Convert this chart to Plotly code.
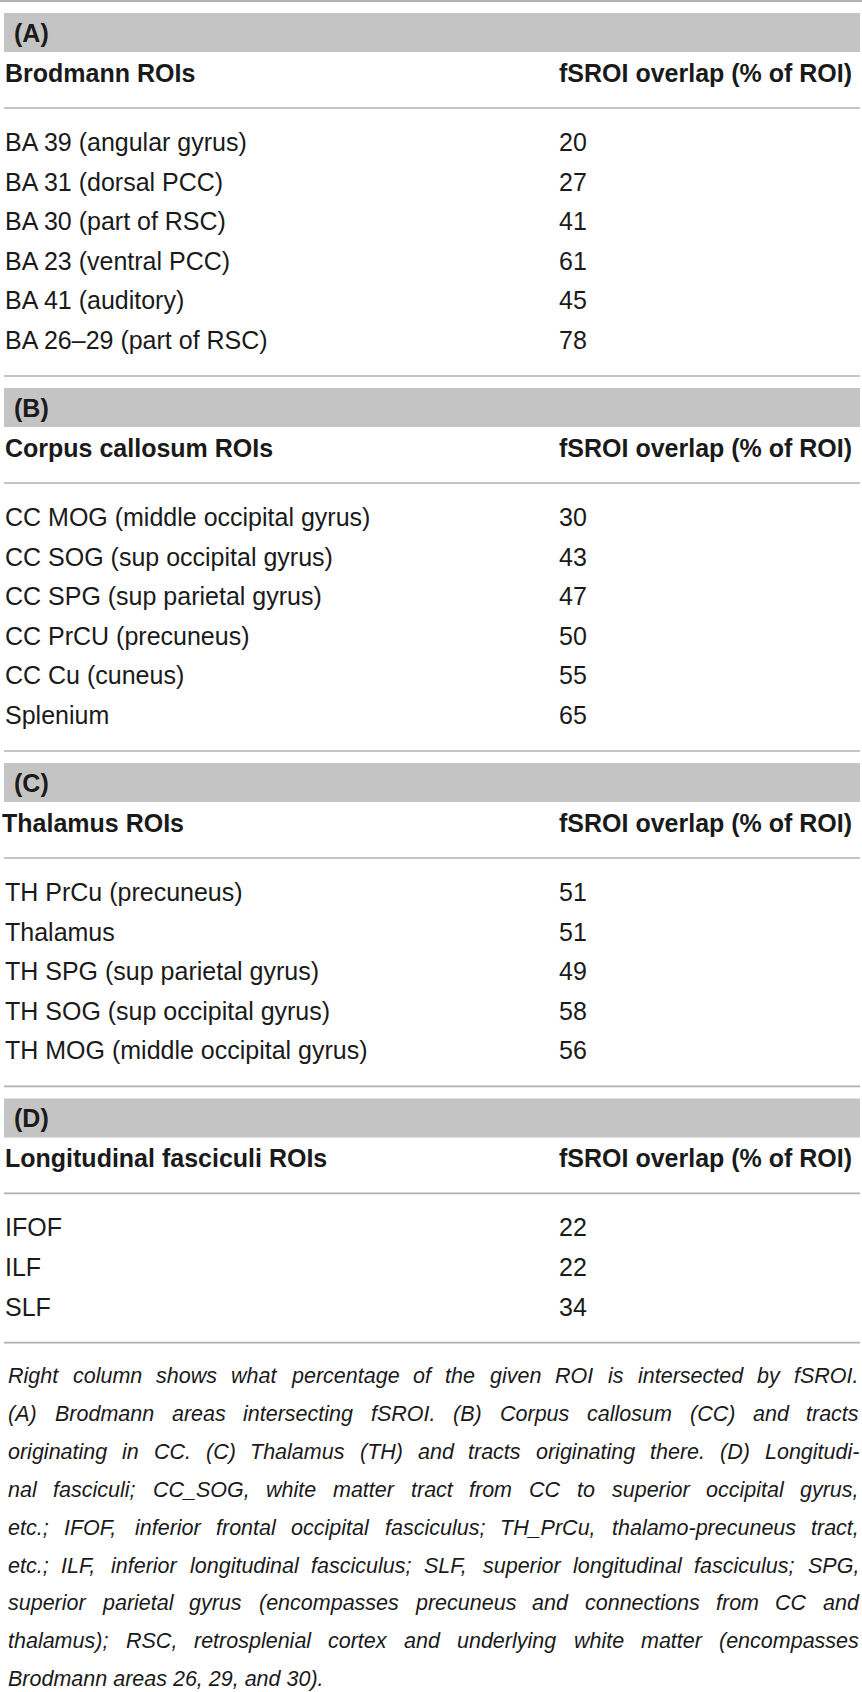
import plotly.graph_objects as go

# ---- table content ----
section_tags = ['(A)', '(B)', '(C)', '(D)']
section_headers = ['Brodmann ROIs', 'Corpus callosum ROIs', 'Thalamus ROIs', 'Longitudinal fasciculi ROIs']
value_header = 'fSROI overlap (% of ROI)'

brodmann_rois = ['BA 39 (angular gyrus)', 'BA 31 (dorsal PCC)', 'BA 30 (part of RSC)',
                 'BA 23 (ventral PCC)', 'BA 41 (auditory)', 'BA 26–29 (part of RSC)']
brodmann_overlap = [20, 27, 41, 61, 45, 78]

cc_rois = ['CC MOG (middle occipital gyrus)', 'CC SOG (sup occipital gyrus)', 'CC SPG (sup parietal gyrus)',
           'CC PrCU (precuneus)', 'CC Cu (cuneus)', 'Splenium']
cc_overlap = [30, 43, 47, 50, 55, 65]

thalamus_rois = ['TH PrCu (precuneus)', 'Thalamus', 'TH SPG (sup parietal gyrus)',
                 'TH SOG (sup occipital gyrus)', 'TH MOG (middle occipital gyrus)']
thalamus_overlap = [51, 51, 49, 58, 56]

lf_rois = ['IFOF', 'ILF', 'SLF']
lf_overlap = [22, 22, 34]

caption_lines = [
    'Right column shows what percentage of the given ROI is intersected by fSROI.',
    '(A) Brodmann areas intersecting fSROI. (B) Corpus callosum (CC) and tracts',
    'originating in CC. (C) Thalamus (TH) and tracts originating there. (D) Longitudi-',
    'nal fasciculi; CC_SOG, white matter tract from CC to superior occipital gyrus,',
    'etc.; IFOF, inferior frontal occipital fasciculus; TH_PrCu, thalamo-precuneus tract,',
    'etc.; ILF, inferior longitudinal fasciculus; SLF, superior longitudinal fasciculus; SPG,',
    'superior parietal gyrus (encompasses precuneus and connections from CC and',
    'thalamus); RSC, retrosplenial cortex and underlying white matter (encompasses',
    'Brodmann areas 26, 29, and 30).',
]

sections = [
    (brodmann_rois, brodmann_overlap),
    (cc_rois, cc_overlap),
    (thalamus_rois, thalamus_overlap),
    (lf_rois, lf_overlap),
]

# ---- page geometry (px) ----
W, H = 862, 1692
X0, X1 = 4, 860
VAL_X = 558
BAND_H = 39
PITCH = 39.6
FONT = 'Liberation Sans, Arial, Helvetica, sans-serif'
TXT = '#1a1a1a'
BAND = '#c4c4c4'
RULE = '#b0b0b0'

# helvetica/arial advance widths (1/1000 em), used to justify the caption
_w = {' ': 278, '.': 278, ',': 278, ';': 278, ':': 278, '(': 333, ')': 333, '-': 333,
      '_': 556, '–': 556, '%': 889, '/': 278}
for c in 'abdeghnopqu':
    _w[c] = 556
for c in 'cksvxyz':
    _w[c] = 500
for c in 'fjt':
    _w[c] = 278
_w.update({'i': 222, 'l': 222, 'j': 222, 'r': 333, 'm': 833, 'w': 722})
_w.update({'A': 667, 'B': 667, 'C': 722, 'D': 722, 'E': 667, 'F': 611, 'G': 778, 'H': 722,
           'I': 278, 'J': 500, 'K': 667, 'L': 556, 'M': 833, 'N': 722, 'O': 778, 'P': 667,
           'Q': 778, 'R': 722, 'S': 667, 'T': 611, 'U': 722, 'V': 667, 'W': 944, 'X': 667,
           'Y': 667, 'Z': 611})
for c in '0123456789':
    _w[c] = 556


def text_em(s):
    return sum(_w.get(c, 556) for c in s) / 1000.0


fig = go.Figure()
shapes = []
annots = []


def rule(y, x0=X0, x1=X1, color=RULE, width=1.6):
    shapes.append(dict(type='line', xref='x', yref='y', x0=x0, x1=x1, y0=y, y1=y,
                       line=dict(color=color, width=width)))


def label(x, y, s, size=25, bold=False, italic=False, anchor='left'):
    annots.append(dict(x=x, y=y, xref='x', yref='y', text=s, showarrow=False,
                       xanchor=anchor, yanchor='middle', borderpad=0,
                       font=dict(family=FONT, size=size, color=TXT,
                                 weight='bold' if bold else 'normal',
                                 style='italic' if italic else 'normal')))


rule(1, 0, W, color='#999999')
y = 13
for k, (names, vals) in enumerate(sections):
    shapes.append(dict(type='rect', xref='x', yref='y', x0=X0, x1=X1, y0=y, y1=y + BAND_H,
                       fillcolor=BAND, line=dict(width=0), layer='below'))
    label(13, y + BAND_H / 2, section_tags[k], bold=True)
    hy = y + BAND_H + 20.5
    label(1 if k == 2 else 4, hy, section_headers[k], bold=True)
    label(VAL_X, hy, value_header, bold=True)
    rule(hy + 35.5)
    ry = hy + 35.5 + 34
    for name, v in zip(names, vals):
        label(4, ry, name)
        label(VAL_X, ry, str(v))
        ry += PITCH
    line_y = ry - PITCH + 36
    rule(line_y)
    y = line_y + 12

# caption, justified between CX0 and CX1
CX0, CX1 = 7, 858
cap_y0 = 1376
cap_pitch = 37.9
max_em = 0
for ln in caption_lines[:-1]:
    words = ln.split(' ')
    max_em = max(max_em, text_em(''.join(words)) + 0.15 * (len(words) - 1))
cap_fs = min(21.5, (CX1 - CX0) / max_em)

for i, ln in enumerate(caption_lines):
    cy = cap_y0 + i * cap_pitch
    words = ln.split(' ')
    if i == len(caption_lines) - 1:
        label(CX0, cy, ln, size=cap_fs, italic=True)
        continue
    widths = [text_em(wd) * cap_fs for wd in words]
    gap = (CX1 - CX0 - sum(widths)) / (len(words) - 1)
    x = CX0
    for wd, ww in zip(words, widths):
        label(x, cy, wd, size=cap_fs, italic=True)
        x += ww + gap

fig.update_layout(
    width=W, height=H,
    margin=dict(l=0, r=0, t=0, b=0),
    paper_bgcolor='white', plot_bgcolor='white',
    xaxis=dict(range=[0, W], visible=False, fixedrange=True),
    yaxis=dict(range=[H, 0], visible=False, fixedrange=True),
    shapes=shapes, annotations=annots,
    showlegend=False,
)

fig.write_html('out.html', config={'displayModeBar': False},
               post_script="document.body.style.margin='0';document.body.style.overflow='hidden';")
